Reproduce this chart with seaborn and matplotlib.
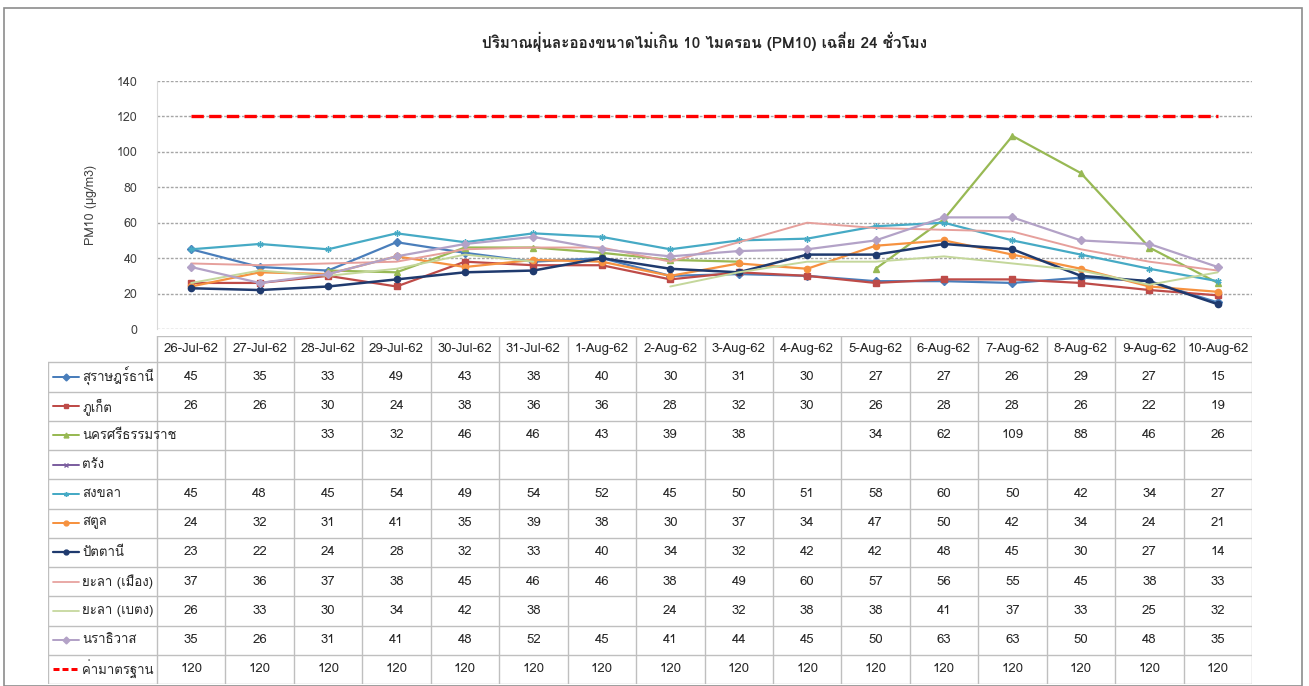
import numpy as np
import pandas as pd
import seaborn as sns
import matplotlib
matplotlib.use("Agg")
import matplotlib.pyplot as plt
from matplotlib import font_manager
from matplotlib.ft2font import FT2Font

nan = np.nan

dates = ["26-Jul-62", "27-Jul-62", "28-Jul-62", "29-Jul-62", "30-Jul-62", "31-Jul-62",
         "1-Aug-62", "2-Aug-62", "3-Aug-62", "4-Aug-62", "5-Aug-62", "6-Aug-62",
         "7-Aug-62", "8-Aug-62", "9-Aug-62", "10-Aug-62"]

surat = [45, 35, 33, 49, 43, 38, 40, 30, 31, 30, 27, 27, 26, 29, 27, 15]
phuket = [26, 26, 30, 24, 38, 36, 36, 28, 32, 30, 26, 28, 28, 26, 22, 19]
nakhon = [nan, nan, 33, 32, 46, 46, 43, 39, 38, nan, 34, 62, 109, 88, 46, 26]
trang = [nan] * 16
songkhla = [45, 48, 45, 54, 49, 54, 52, 45, 50, 51, 58, 60, 50, 42, 34, 27]
satun = [24, 32, 31, 41, 35, 39, 38, 30, 37, 34, 47, 50, 42, 34, 24, 21]
pattani = [23, 22, 24, 28, 32, 33, 40, 34, 32, 42, 42, 48, 45, 30, 27, 14]
yala_muang = [37, 36, 37, 38, 45, 46, 46, 38, 49, 60, 57, 56, 55, 45, 38, 33]
yala_betong = [26, 33, 30, 34, 42, 38, nan, 24, 32, 38, 38, 41, 37, 33, 25, 32]
narathiwat = [35, 26, 31, 41, 48, 52, 45, 41, 44, 45, 50, 63, 63, 50, 48, 35]
standard = [120] * 16

names = ["สุราษฎร์ธานี", "ภูเก็ต", "นครศรีธรรมราช", "ตรัง", "สงขลา", "สตูล",
         "ปัตตานี", "ยะลา (เมือง)", "ยะลา (เบตง)", "นราธิวาส", "ค่ามาตรฐาน"]
series = [surat, phuket, nakhon, trang, songkhla, satun, pattani,
          yala_muang, yala_betong, narathiwat, standard]

# colour, marker, linestyle, linewidth
styles = [
    ("#4A7EBB", "D", "-", 1.6),
    ("#BE4B48", "s", "-", 1.6),
    ("#98B954", "^", "-", 1.6),
    ("#7D60A0", "x", "-", 1.6),
    ("#46AAC5", (6, 2, 0), "-", 1.6),
    ("#F69240", "o", "-", 1.6),
    ("#1F3A6E", "o", "-", 1.8),
    ("#E6A09C", None, "-", 1.4),
    ("#C4D79B", None, "-", 1.4),
    ("#B3A2C7", "D", "-", 1.6),
    ("#FF0000", None, "--", 2.4),
]

sns.set_style("white")

# find a font with Thai glyphs
thai_font = None
for f in font_manager.fontManager.ttflist:
    try:
        if 0x0E01 in FT2Font(f.fname).get_charmap():
            thai_font = f.name
            break
    except Exception:
        pass
fams = ([thai_font] if thai_font else []) + ["DejaVu Sans"]
plt.rcParams["font.family"] = fams

W, H = 1309, 686
fig = plt.figure(figsize=(W / 100, H / 100), dpi=100)
fig.patches.append(plt.Rectangle((4 / W, 0), 1298 / W, 1 - 8 / H, transform=fig.transFigure,
                                 fill=False, edgecolor="#8C8C8C", linewidth=1.2))


def fx(px):
    return px / W


def fy(py):
    return 1 - py / H


x = np.arange(len(dates))

# ---- chart ----
ax = fig.add_axes([fx(157), fy(329), fx(1252) - fx(157), fy(81) - fy(329)])
for name, vals, (c, m, ls, lw) in zip(names, series, styles):
    v = np.array(vals, dtype=float)
    if np.all(np.isnan(v)):
        continue
    # break lines at missing values
    seg = np.cumsum(np.isnan(v))
    df = pd.DataFrame({"x": x, "y": v, "seg": seg}).dropna()
    for _, d in df.groupby("seg"):
        sns.lineplot(data=d, x="x", y="y", ax=ax, color=c, marker=m, linestyle=ls,
                     linewidth=lw, markersize=4.5, markeredgecolor=c, markeredgewidth=1.0,
                     dashes=False if ls == "-" else (2.2, 1.3))

ax.set_xlim(-0.5, 15.5)
ax.set_ylim(0, 140)
ax.set_yticks(range(0, 141, 20))
ax.tick_params(axis="y", length=0, labelsize=9, colors="#404040", pad=14)
ax.set_xticks([])
ax.set_xlabel("")
ax.set_ylabel("PM10 (µg/m3)", fontsize=9, color="#404040", labelpad=14)
ax.grid(axis="y", color="#A6A6A6", linestyle=(0, (2, 1.2)), linewidth=1.0)
for s in ["top", "right", "bottom"]:
    ax.spines[s].set_visible(False)
ax.spines["left"].set_color("#D9D9D9")
ax.set_title("ปริมาณฝุ่นละอองขนาดไม่เกิน 10 ไมครอน (PM10) เฉลี่ย 24 ชั่วโมง",
             fontsize=11, fontweight="bold", color="#262626", pad=24)

# ---- data table ----
legw = (157 - 48) / ((1252 - 157) / 16)
x0 = -0.5 - legw
hh = 0.9
nrows = len(names)
tax = fig.add_axes([fx(48), fy(684), fx(1252) - fx(48), fy(336) - fy(684)])
tax.set_xlim(x0, 15.5)
tax.set_ylim(hh + nrows, 0)
tax.axis("off")
lc = "#BFBFBF"
for k in range(17):
    tax.plot([-0.5 + k, -0.5 + k], [0, hh + nrows], color=lc, lw=1)
tax.plot([x0, x0], [hh, hh + nrows], color=lc, lw=1)
tax.plot([-0.5, 15.5], [0, 0], color=lc, lw=1)
for i in range(nrows + 1):
    tax.plot([x0, 15.5], [hh + i, hh + i], color=lc, lw=1)
for j, d in enumerate(dates):
    tax.text(j, hh / 2, d, ha="center", va="center", fontsize=9.5, color="#262626")
for i, (name, vals, (c, m, ls, lw)) in enumerate(zip(names, series, styles)):
    yc = hh + i + 0.5
    tax.plot([x0 + 0.07, x0 + 0.45], [yc, yc], color=c, lw=lw * 0.9,
             linestyle=ls if ls == "-" else (0, (2, 1)))
    if m is not None:
        tax.plot([x0 + 0.26], [yc], color=c, marker=m, markersize=3.5,
                 markeredgecolor=c, markeredgewidth=1)
    tax.text(x0 + 0.5, yc, name, ha="left", va="center", fontsize=9.5, color="#262626")
    for j, v in enumerate(vals):
        if not np.isnan(v):
            tax.text(j, yc, f"{int(v)}", ha="center", va="center", fontsize=9.5, color="#262626")

fig.savefig("out.png", dpi=100)
